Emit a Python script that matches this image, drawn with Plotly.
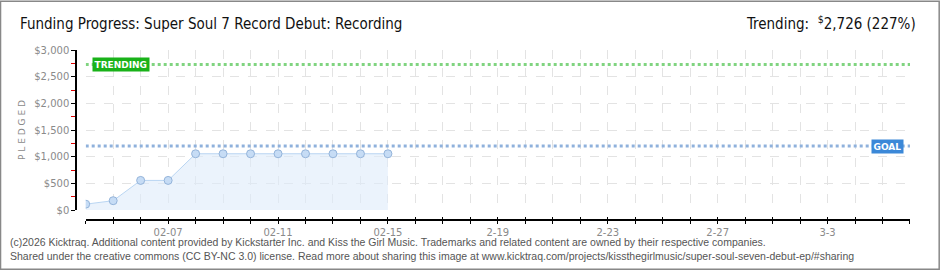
import plotly.graph_objects as go
import pandas as pd

# ---- data ----
dates = ["2026-02-04", "2026-02-05", "2026-02-06", "2026-02-07", "2026-02-08", "2026-02-09",
         "2026-02-10", "2026-02-11", "2026-02-12", "2026-02-13", "2026-02-14", "2026-02-15"]
pledged = [110, 175, 555, 555, 1055, 1055, 1055, 1055, 1055, 1055, 1055, 1055]
goal = 1200
trending = 2726
range_start = "2026-02-04"
range_end = "2026-03-06"
label_dates = ["2026-02-07", "2026-02-11", "2026-02-15", "2026-02-19", "2026-02-23", "2026-02-27", "2026-03-03"]
label_text = ["02-07", "02-11", "02-15", "2-19", "2-23", "2-27", "3-3"]
y_ticks = [0, 500, 1000, 1500, 2000, 2500, 3000]
y_labels = ["$0", "$500", "$1,000", "$1,500", "$2,000", "$2,500", "$3,000"]

W, H = 940, 270
L, R, T, B = 76, 29.7, 49.5, 50
PW, PH = W - L - R, H - T - B

def px_x(p):
    return (p - L) / PW

def px_y(p):
    return (H - B - p) / PH

all_days = [d.strftime("%Y-%m-%d") for d in pd.date_range(range_start, range_end, freq="D")]
tick_text = [label_text[label_dates.index(d)] if d in label_dates else " " for d in all_days]

fig = go.Figure()

# data area
fig.add_trace(go.Scatter(
    x=dates, y=pledged, mode="lines+markers", fill="tozeroy",
    fillcolor="rgba(222,235,250,0.6)",
    line=dict(color="#b9d5f2", width=1),
    marker=dict(size=8, color="#c6dcf5", line=dict(color="#94b4da", width=1)),
    hoverinfo="skip", showlegend=False,
))
# goal line
fig.add_trace(go.Scatter(
    x=[range_start, range_end], y=[goal, goal], mode="lines",
    line=dict(color="#8fb1dc", width=3, dash="dot"),
    hoverinfo="skip", showlegend=False,
))
# trending line
fig.add_trace(go.Scatter(
    x=[range_start, range_end], y=[trending, trending], mode="lines",
    line=dict(color="#80d480", width=3, dash="dot"),
    hoverinfo="skip", showlegend=False,
))
# invisible trace for inside ticks on x axis
fig.add_trace(go.Scatter(x=[range_start], y=[0], xaxis="x2", mode="markers",
                         marker=dict(opacity=0), hoverinfo="skip", showlegend=False))

axis_font = dict(family="DejaVu Sans", size=10, color="#8a8a8a")

fig.update_layout(
    width=W, height=H,
    margin=dict(l=L, r=R, t=T, b=B),
    paper_bgcolor="white", plot_bgcolor="white",
    xaxis=dict(
        type="date", range=[range_start, range_end], domain=[px_x(85.7), 1],
        anchor="free", position=0,
        tickmode="array", tickvals=all_days, ticktext=tick_text,
        ticks="outside", ticklen=3, tickcolor="black", tickwidth=1,
        showline=True, linecolor="black", linewidth=1.5,
        showgrid=True, gridcolor="#e3e3e3", griddash="dash", gridwidth=1,
        tickfont=axis_font, zeroline=False,
    ),
    xaxis2=dict(
        type="date", range=[range_start, range_end], domain=[px_x(85.7), 1],
        overlaying="x", anchor="free", position=0,
        tickmode="array", tickvals=all_days,
        ticks="inside", ticklen=3, tickcolor="black", tickwidth=1,
        showline=False, showgrid=False, showticklabels=False,
    ),
    yaxis=dict(
        range=[0, 3000], domain=[px_y(210), 1],
        anchor="free", position=0,
        tickmode="array", tickvals=y_ticks, ticktext=y_labels,
        ticks="outside", ticklen=4, tickcolor="black", tickwidth=1,
        minor=dict(ticks="outside", ticklen=4, tickcolor="#e00000", dtick=250, tick0=0, showgrid=False),
        showline=True, linecolor="black", linewidth=1.5,
        showgrid=True, gridcolor="#e3e3e3", griddash="dash", gridwidth=1,
        tickfont=axis_font, zeroline=False,
        title=dict(text="P L E D G E D", font=dict(family="DejaVu Sans", size=9, color="#8a8a8a"), standoff=6),
    ),
    title=dict(
        text="Funding Progress: Super Soul 7 Record Debut: Recording",
        x=20 / W, xanchor="left", y=1 - 24 / H, yanchor="middle",
        font=dict(family="DejaVu Sans Condensed", size=15, color="#111111"),
    ),
)

annotations = [
    dict(text="Trending:  <sup>$</sup>2,726 (227%)", xref="paper", yref="paper",
         x=px_x(918), y=px_y(22), xanchor="right", yanchor="middle", showarrow=False,
         font=dict(family="DejaVu Sans Condensed", size=15, color="#111111")),
    dict(text="<b>TRENDING</b>", xref="paper", yref="y", x=px_x(121), y=trending,
         xanchor="center", yanchor="middle", showarrow=False, bgcolor="#19b219",
         borderpad=1.5, font=dict(family="DejaVu Sans", size=9, color="white")),
    dict(text="<b>GOAL</b>", xref="paper", yref="y", x=px_x(887.5), y=goal,
         xanchor="center", yanchor="middle", showarrow=False, bgcolor="#3b88d8",
         borderpad=1.5, font=dict(family="DejaVu Sans", size=9, color="white")),
    dict(text="(c)2026 Kicktraq. Additional content provided by Kickstarter Inc. and Kiss the Girl Music. Trademarks and related content are owned by their respective companies.<br>"
              "Shared under the creative commons (CC BY-NC 3.0) license. Read more about sharing this image at www.kicktraq.com/projects/kissthegirlmusic/super-soul-seven-debut-ep/#sharing",
         xref="paper", yref="paper", x=px_x(8), y=px_y(249.5), xanchor="left", yanchor="middle",
         align="left", showarrow=False,
         font=dict(family="Liberation Sans", size=10.5, color="#555555")),
]
fig.update_layout(annotations=annotations)

# outer frame
fig.add_shape(type="rect", xref="paper", yref="paper",
              x0=px_x(0.5), x1=px_x(W - 0.5), y0=px_y(H - 0.5), y1=px_y(0.5),
              line=dict(color="#888888", width=1.5), fillcolor="rgba(0,0,0,0)", layer="above")

fig.write_html("out.html")
